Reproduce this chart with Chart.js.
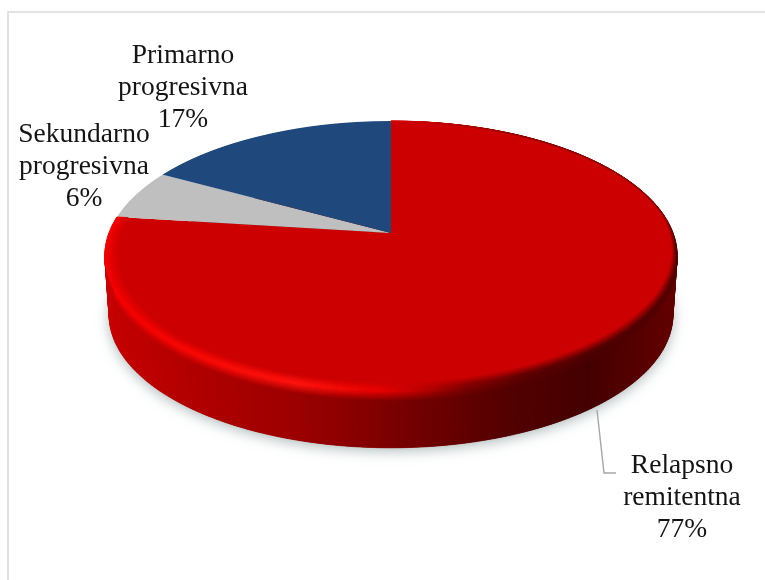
<!DOCTYPE html>
<html>
<head>
<meta charset="utf-8">
<style>
  html, body { margin: 0; background: #fff; }
  canvas { display: block; }
</style>
<script src="https://cdn.jsdelivr.net/npm/chart.js@4/dist/chart.umd.min.js"></script>
</head>
<body>
<canvas id="msChart" width="765" height="580"></canvas>
<script>
var categories = ["Relapsno remitentna", "Sekundarno progresivna", "Primarno progresivna"];
var shares = [77, 6, 17];
var sliceColors = ["#cc0000", "#bfbfbf", "#1f497d"];

// where each label block sits: centre x, first baseline
var labelSpots = [[682, 473], [84, 142], [183, 63]];
var labelFont = "27.5px 'Liberation Serif'";
var labelLeading = 32;

// tilted disc: pivot, half sizes, perspective strength, wall height
var tilt = { cx: 391, cy: 233, a: 282, b: 131, k: 0.17, depth: 59, shrink: 0.015 };

var faceRed = [204, 0, 0];
var wallStops = [[106, [200, 0, 0]], [200, [176, 0, 0]], [300, [156, 0, 0]], [392, [124, 0, 0]], [506, [84, 0, 0]], [592, [68, 0, 0]], [678, [100, 0, 0]]];
var rimStops = [[106, [245, 0, 0]], [300, [255, 20, 14]], [380, [232, 0, 0]], [420, [192, 0, 0]], [470, [128, 0, 0]], [530, [90, 0, 0]], [600, [76, 0, 0]], [678, [80, 0, 0]]];

function mix(c1, c2, f) {
  return [0, 1, 2].map(function(i) { return c1[i] + (c2[i] - c1[i]) * f; });
}
function css(c) {
  return "rgb(" + Math.round(c[0]) + "," + Math.round(c[1]) + "," + Math.round(c[2]) + ")";
}
function colorAt(stops, x) {
  if (x <= stops[0][0]) return stops[0][1];
  for (var i = 1; i < stops.length; i++) {
    if (x <= stops[i][0]) {
      return mix(stops[i - 1][1], stops[i][1], (x - stops[i - 1][0]) / (stops[i][0] - stops[i - 1][0]));
    }
  }
  return stops[stops.length - 1][1];
}

// disc angle + radius fraction + drop down the wall -> screen point
function project(angle, t, h) {
  var u = t * Math.cos(angle), v = t * Math.sin(angle);
  var w = 1 / (1 - tilt.k * v);
  var s = 1 - tilt.shrink * h;
  return [tilt.cx + tilt.a * u * w * s, tilt.cy + tilt.b * v * w * s + tilt.depth * h + tilt.b * (tilt.k / (1 - tilt.k * tilt.k)) * (1 - s)];
}

function quad(ctx, p1, p2, p3, p4, color) {
  ctx.fillStyle = color;
  ctx.strokeStyle = color;
  ctx.lineWidth = 0.7;
  ctx.beginPath();
  ctx.moveTo(p1[0], p1[1]);
  ctx.lineTo(p2[0], p2[1]);
  ctx.lineTo(p3[0], p3[1]);
  ctx.lineTo(p4[0], p4[1]);
  ctx.closePath();
  ctx.fill();
  ctx.stroke();
}

function drawWall(ctx, arc) {
  var i, steps = 300;
  var da = (arc.endAngle - arc.startAngle) / steps;

  // soft shadow under the base
  ctx.save();
  ctx.shadowColor = "rgba(105,125,125,0.55)";
  ctx.shadowBlur = 13;
  ctx.shadowOffsetY = 3;
  ctx.fillStyle = "#700000";
  ctx.beginPath();
  for (i = 0; i <= 360; i += 2) {
    var p = project(i * Math.PI / 180, 1, 1);
    if (i == 0) ctx.moveTo(p[0], p[1]); else ctx.lineTo(p[0], p[1]);
  }
  ctx.closePath();
  ctx.fill();
  ctx.restore();

  var bands = [0, 0.03, 0.06, 0.09, 0.12, 0.15, 0.18, 1];
  for (i = 0; i < steps; i++) {
    var a0 = arc.startAngle + i * da, a1 = a0 + da;
    for (var b = 0; b < bands.length - 1; b++) {
      var x = project(a0, 1, 0)[0];
      var f = Math.min(1, bands[b] / 0.17);
      var col = mix(colorAt(rimStops, x), colorAt(wallStops, x), f);
      quad(ctx, project(a0, 1, bands[b]), project(a1, 1, bands[b]), project(a1, 1, bands[b + 1]), project(a0, 1, bands[b + 1]), css(col));
    }
  }
}

// bevel along the edge of the top face, wide at the front and left, thin at the back
function drawRim(ctx, arc) {
  var steps = 300, rings = 7;
  var da = (arc.endAngle - arc.startAngle) / steps;
  for (var i = 0; i < steps; i++) {
    var a0 = arc.startAngle + i * da, a1 = a0 + da;
    var reach = Math.min(1, Math.max(0, Math.max(Math.sin(a0), -Math.cos(a0)) + 0.15));
    var width = 0.006 + 0.036 * reach;
    var strength = 0.55 + 0.45 * Math.min(1, reach * 4);
    for (var r = 0; r < rings; r++) {
      var t0 = 1 - width * (1 - r / rings), t1 = 1 - width * (1 - (r + 1) / rings);
      var x = project(a0, 1, 0)[0];
      var col = mix(faceRed, colorAt(rimStops, x), strength * (r + 1) / rings);
      quad(ctx, project(a0, t0, 0), project(a1, t0, 0), project(a1, t1, 0), project(a0, t1, 0), css(col));
    }
  }
}

var discPlugin = {
  id: "disc",
  beforeDraw: function(chart) {
    var ctx = chart.ctx;
    ctx.save();
    ctx.strokeStyle = "#d9d9d9";
    ctx.lineWidth = 1.5;
    ctx.beginPath();
    ctx.moveTo(8, chart.height);
    ctx.lineTo(8, 12);
    ctx.lineTo(chart.width, 12);
    ctx.stroke();
    ctx.restore();
  },
  beforeDatasetDraw: function(chart, args) {
    var ctx = chart.ctx;
    var meta = args.meta;
    var first = meta.data[0];
    var R = first.outerRadius, sx = first.x, sy = first.y;

    drawWall(ctx, first);

    // slices are drawn one pixel row at a time, each row with its own scale, to get the perspective
    var top = Math.floor(project(-Math.PI / 2, 1, 0)[1]) - 1;
    var bottom = Math.ceil(project(Math.PI / 2, 1, 0)[1]) + 1;
    for (var y = top; y < bottom; y++) {
      var yc = y + 0.5;
      var dy = yc - tilt.cy;
      var v = dy / (tilt.b + tilt.k * dy);
      var w = 1 / (1 - tilt.k * v);
      var sxScale = tilt.a * w / R;
      var syScale = tilt.b * w * w / R;
      ctx.save();
      ctx.beginPath();
      ctx.rect(0, y, chart.width, 1);
      ctx.clip();
      ctx.setTransform(sxScale, 0, 0, syScale, tilt.cx - sxScale * sx, yc - syScale * (sy + v * R));
      meta.controller.draw();
      ctx.restore();
    }

    drawRim(ctx, first);
    return false;
  },
  afterDraw: function(chart) {
    var ctx = chart.ctx;
    ctx.save();

    // leader line for the big slice
    ctx.strokeStyle = "#a6a6a6";
    ctx.lineWidth = 1.4;
    ctx.beginPath();
    ctx.moveTo(597, 410);
    ctx.lineTo(604, 473);
    ctx.lineTo(616, 473);
    ctx.stroke();

    ctx.font = labelFont;
    ctx.fillStyle = "#141414";
    ctx.textAlign = "center";
    categories.forEach(function(name, i) {
      var lines = name.split(" ").concat(shares[i] + "%");
      lines.forEach(function(line, n) {
        ctx.fillText(line, labelSpots[i][0], labelSpots[i][1] + n * labelLeading);
      });
    });
    ctx.restore();
  }
};

new Chart(document.getElementById("msChart"), {
  type: "pie",
  data: {
    labels: categories,
    datasets: [{
      data: shares,
      backgroundColor: sliceColors,
      borderWidth: 0
    }]
  },
  options: {
    responsive: false,
    animation: false,
    plugins: {
      legend: { display: false },
      tooltip: { enabled: false }
    }
  },
  plugins: [discPlugin]
});
</script>
</body>
</html>
